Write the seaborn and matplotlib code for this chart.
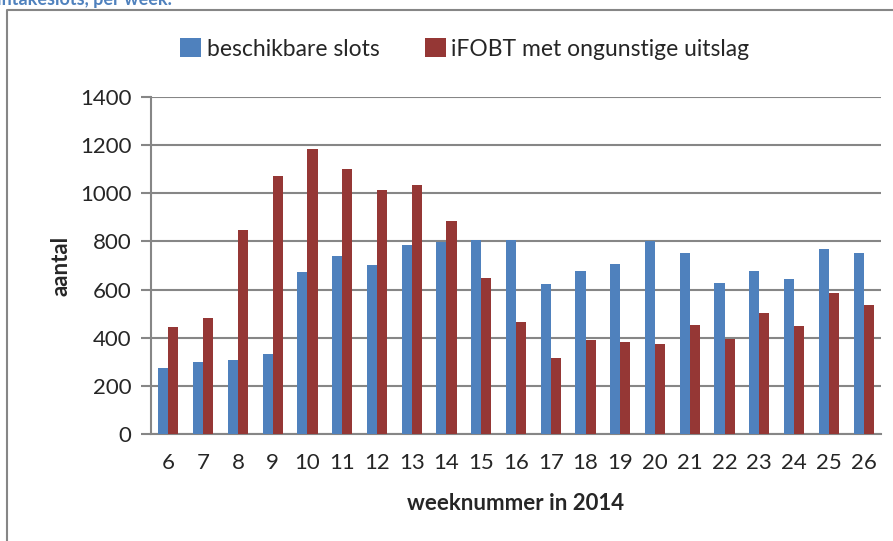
import pandas as pd
import matplotlib.pyplot as plt
import seaborn as sns
from matplotlib.lines import Line2D
from matplotlib.ticker import MultipleLocator

# weeknummers en waarden
weeks = [6, 7, 8, 9, 10, 11, 12, 13, 14, 15, 16, 17, 18, 19, 20, 21, 22, 23, 24, 25, 26]
slots = [276, 301, 309, 333, 671, 740, 703, 786, 797, 807, 807, 624, 676, 707, 803,
         754, 629, 676, 645, 769, 754]
ifobt = [445, 482, 847, 1073, 1182, 1100, 1013, 1035, 884, 650, 466, 315, 392, 381,
         373, 453, 395, 502, 448, 586, 535]
series_names = ['beschikbare slots', 'iFOBT met ongunstige uitslag']
colors = ['#4F81BD', '#953735']

df = pd.DataFrame({
    'week': weeks * 2,
    'aantal': slots + ifobt,
    'reeks': [series_names[0]] * len(weeks) + [series_names[1]] * len(weeks),
})

sns.set_style('white')
plt.rcParams['font.family'] = ['Lato', 'DejaVu Sans']

fig = plt.figure(figsize=(8.93, 5.41), dpi=100)
ax = fig.add_axes([151 / 893, 1 - 434 / 541, 730 / 893, 337 / 541])

sns.barplot(data=df, x='week', y='aantal', hue='reeks', palette=colors,
            saturation=1, width=0.58, ax=ax, legend=True, zorder=3,
            edgecolor='none')

ax.set_ylim(0, 1400)
ax.set_xlim(-0.5, len(weeks) - 0.5)
ax.yaxis.set_major_locator(MultipleLocator(200))
ax.grid(axis='y', color='#868686', linewidth=1.5, zorder=0)
ax.set_axisbelow(True)

for side in ['top', 'right']:
    ax.spines[side].set_visible(False)
for side in ['left', 'bottom']:
    ax.spines[side].set_color('#868686')
    ax.spines[side].set_linewidth(1.5)

# tick marks op de grenzen tussen de weken
ax.set_xticks([i - 0.5 for i in range(len(weeks) + 1)], minor=True)
ax.tick_params(axis='x', which='major', length=0, pad=14, labelsize=16)
ax.tick_params(axis='x', which='minor', length=7, width=1.5, color='#868686', direction='out')
ax.tick_params(axis='y', length=7, width=1.5, color='#868686', direction='out',
               labelsize=16, pad=7, left=True)

ax.set_xlabel('weeknummer in 2014', fontsize=16, fontweight='bold', labelpad=14)
ax.set_ylabel('aantal', fontsize=16, fontweight='bold', labelpad=6)

ax.legend(loc='upper center', bbox_to_anchor=(0.43, 1.235), ncol=2, frameon=False,
          fontsize=16.5, handlelength=0.9, handleheight=0.9, handletextpad=0.25,
          columnspacing=2.0)

# rand van het grafiekgebied
fig.add_artist(Line2D([7 / 893, 7 / 893, 1], [0, 1 - 10 / 541, 1 - 10 / 541],
                      color='#868686', linewidth=1.5, transform=fig.transFigure))
fig.text(-0.003, 1 - 5 / 541, 'intakeslots, per week.', fontsize=13, fontweight='bold',
         color='#4F81BD', va='baseline', ha='left')

fig.savefig('out.png', dpi=100)
